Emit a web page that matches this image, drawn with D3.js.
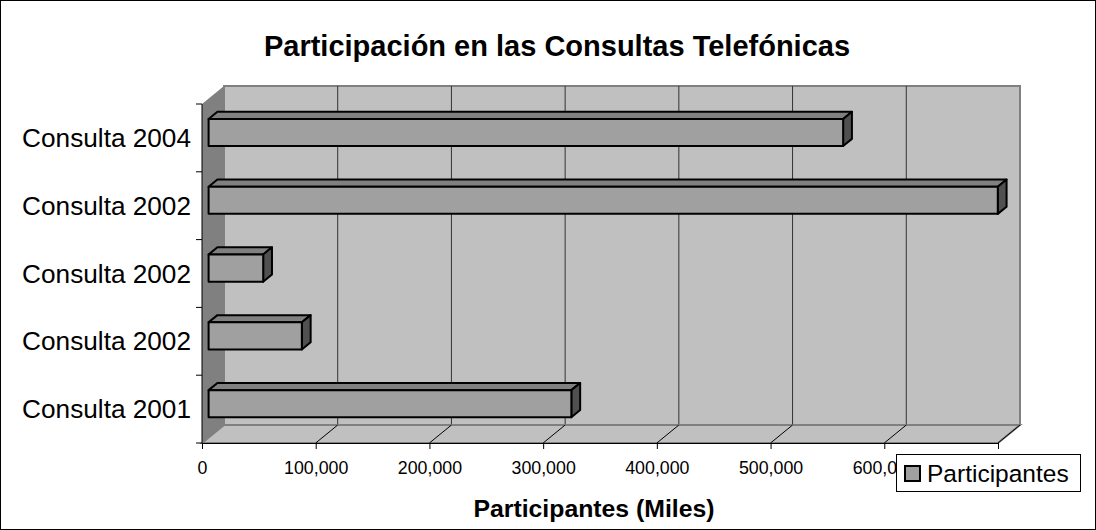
<!DOCTYPE html>
<html>
<head>
<meta charset="utf-8">
<script src="https://cdn.jsdelivr.net/npm/d3@7"></script>
<style>
  body { margin: 0; background: #fff; }
  text { font-family: "Liberation Sans", Arial, sans-serif; fill: #000; }
</style>
</head>
<body>
<svg id="chart" width="1096" height="530"></svg>
<script>
// data, bottom category first (like Excel does it)
var categories = ["Consulta 2001", "Consulta 2002", "Consulta 2002", "Consulta 2002", "Consulta 2004"];
var participantes = [319000, 82000, 48000, 694000, 558000];
var xTicks = [0, 100000, 200000, 300000, 400000, 500000, 600000, 700000];
var chartTitle = "Participación en las Consultas Telefónicas";
var xTitle = "Participantes (Miles)";
var seriesName = "Participantes";

var svg = d3.select("#chart");

// frame
svg.append("rect")
    .attr("x", 0.5).attr("y", 0.5)
    .attr("width", 1095).attr("height", 529)
    .attr("fill", "#fff").attr("stroke", "#000");

// 3d depth offset of the plot box
var DX = 22, DY = -18;
var plotLeft = 202, plotRight = 998, plotTop = 104, plotBottom = 443;

var x = d3.scaleLinear().domain([0, 700000]).range([plotLeft, plotRight]);
var y = d3.scaleBand()
    .domain(d3.range(categories.length).reverse())
    .range([plotTop, plotBottom])
    .padding(0);

function pt(px, py, depth) {
    return [px + depth * DX, py + depth * DY];
}
function poly(points) {
    return points.map(p => p.join(",")).join(" ");
}

var g = svg.append("g");

// back wall
g.append("polygon")
    .attr("points", poly([pt(plotLeft, plotTop, 1), pt(plotRight, plotTop, 1), pt(plotRight, plotBottom, 1), pt(plotLeft, plotBottom, 1)]))
    .attr("fill", "#c0c0c0").attr("stroke", "#808080").attr("stroke-width", 2);

// left side wall
g.append("polygon")
    .attr("points", poly([pt(plotLeft, plotTop, 0), pt(plotLeft, plotTop, 1), pt(plotLeft, plotBottom, 1), pt(plotLeft, plotBottom, 0)]))
    .attr("fill", "#808080");

// floor
g.append("polygon")
    .attr("points", poly([pt(plotLeft, plotBottom, 0), pt(plotLeft, plotBottom, 1), pt(plotRight, plotBottom, 1), pt(plotRight, plotBottom, 0)]))
    .attr("fill", "#c0c0c0").attr("stroke", "#808080").attr("stroke-width", 2);

// gridlines on back wall + floor diagonals
xTicks.forEach(function (t, i) {
    if (i > 0 && i < xTicks.length - 1) {
        var a = pt(x(t), plotTop, 1), b = pt(x(t), plotBottom, 1);
        g.append("line")
            .attr("x1", a[0]).attr("y1", a[1]).attr("x2", b[0]).attr("y2", b[1] - 1)
            .attr("stroke", "#333").attr("stroke-width", 1);
    }
    if (i > 0) {
        var c = pt(x(t), plotBottom, 0), d = pt(x(t), plotBottom, 1);
        g.append("line")
            .attr("x1", c[0]).attr("y1", c[1]).attr("x2", d[0]).attr("y2", d[1])
            .attr("stroke", "#000").attr("stroke-width", 1);
    }
});

// axes
var xAxis = d3.axisBottom(x)
    .tickValues(xTicks)
    .tickSize(6)
    .tickFormat(d3.format(",d"));
var ax = svg.append("g")
    .attr("transform", "translate(0," + plotBottom + ")")
    .call(xAxis);
ax.select(".domain").attr("stroke", "#000").attr("d", "M" + plotLeft + ",0.5H" + plotRight);
ax.selectAll(".tick line").attr("stroke", "#000");
ax.selectAll(".tick text")
    .attr("y", 31).attr("dy", 0)
    .style("font-family", "'Liberation Sans', Arial, sans-serif")
    .style("font-size", "17.8px")
    .attr("fill", "#000");

// left axis: ticks at category boundaries
var ay = svg.append("g");
ay.append("line")
    .attr("x1", plotLeft).attr("x2", plotLeft).attr("y1", plotTop).attr("y2", plotBottom)
    .attr("stroke", "#000");
d3.range(categories.length + 1).forEach(function (i) {
    var yy = plotTop + i * y.step();
    ay.append("line")
        .attr("x1", plotLeft - 6).attr("x2", plotLeft).attr("y1", yy).attr("y2", yy)
        .attr("stroke", "#000");
});
categories.forEach(function (c, i) {
    ay.append("text")
        .attr("x", 191)
        .attr("y", y(i) + y.bandwidth() / 2 + 9)
        .attr("text-anchor", "end")
        .style("font-size", "26.2px")
        .text(c);
});

// bars (front, top, side)
var d0 = 0.3, d1 = 0.7, barFrac = 0.4;
var bars = g.append("g");
participantes.forEach(function (v, i) {
    var bh = y.bandwidth() * barFrac;
    var y0 = y(i) + (y.bandwidth() - bh) / 2, y1 = y0 + bh;
    var x0 = x(0), x1 = x(v);
    var bg = bars.append("g")
        .attr("stroke", "#000").attr("stroke-width", 2).attr("stroke-linejoin", "round");
    bg.append("polygon")
        .attr("points", poly([pt(x0, y0, d0), pt(x0, y0, d1), pt(x1, y0, d1), pt(x1, y0, d0)]))
        .attr("fill", "#808080");
    bg.append("polygon")
        .attr("points", poly([pt(x1, y0, d0), pt(x1, y0, d1), pt(x1, y1, d1), pt(x1, y1, d0)]))
        .attr("fill", "#505050");
    bg.append("polygon")
        .attr("points", poly([pt(x0, y0, d0), pt(x1, y0, d0), pt(x1, y1, d0), pt(x0, y1, d0)]))
        .attr("fill", "#a0a0a0");
});

// titles
svg.append("text")
    .attr("x", 557).attr("y", 56)
    .attr("text-anchor", "middle")
    .style("font-size", "29px").style("font-weight", "bold")
    .text(chartTitle);

svg.append("text")
    .attr("x", 594).attr("y", 517)
    .attr("text-anchor", "middle")
    .style("font-size", "24.8px").style("font-weight", "bold")
    .text(xTitle);

// legend (drawn last, covers the 700,000 label like in the original)
var lg = svg.append("g");
lg.append("rect")
    .attr("x", 896.5).attr("y", 454.5).attr("width", 184).attr("height", 37)
    .attr("fill", "#fff").attr("stroke", "#000");
lg.append("rect")
    .attr("x", 905).attr("y", 466).attr("width", 15).attr("height", 15)
    .attr("fill", "#a0a0a0").attr("stroke", "#000").attr("stroke-width", 2);
lg.append("text")
    .attr("x", 927).attr("y", 482)
    .style("font-size", "24.5px")
    .text(seriesName);
</script>
</body>
</html>
